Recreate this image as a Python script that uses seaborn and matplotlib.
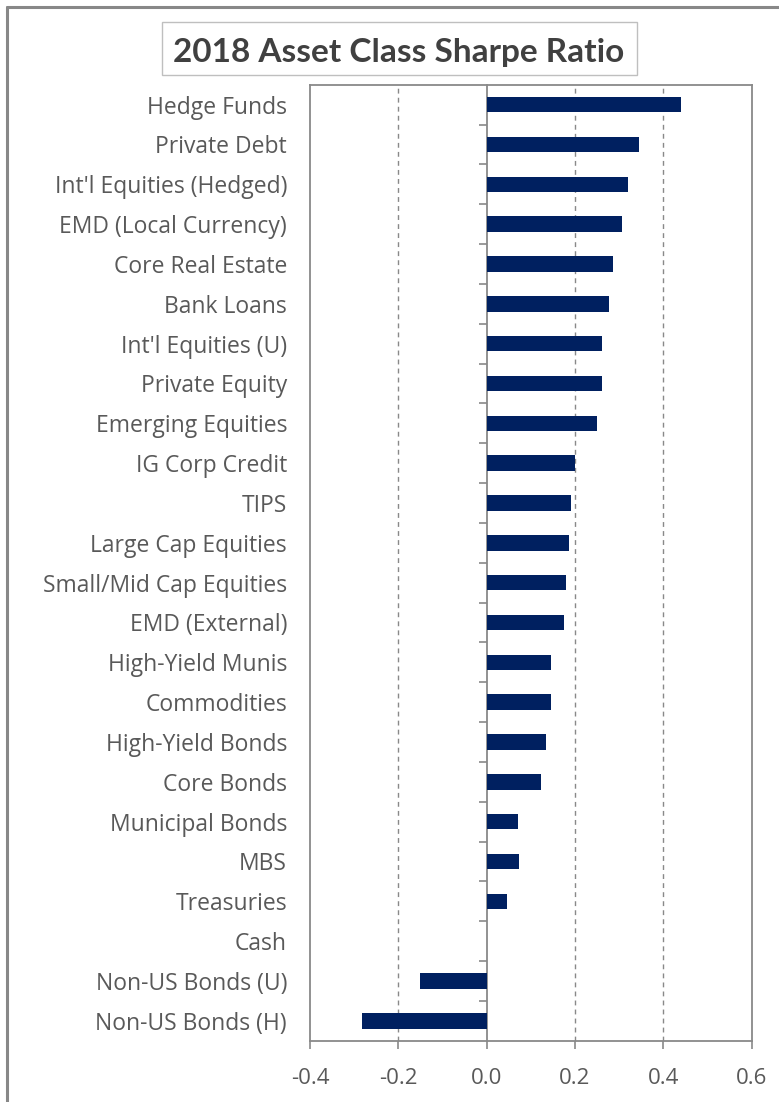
import numpy as np
import pandas as pd
import matplotlib
matplotlib.use("Agg")
import matplotlib.pyplot as plt
from matplotlib.patches import Rectangle
from matplotlib.lines import Line2D
import seaborn as sns

# 2018 Sharpe ratio by asset class (top to bottom)
asset_classes = [
    "Hedge Funds", "Private Debt", "Int'l Equities (Hedged)", "EMD (Local Currency)",
    "Core Real Estate", "Bank Loans", "Int'l Equities (U)", "Private Equity",
    "Emerging Equities", "IG Corp Credit", "TIPS", "Large Cap Equities",
    "Small/Mid Cap Equities", "EMD (External)", "High-Yield Munis", "Commodities",
    "High-Yield Bonds", "Core Bonds", "Municipal Bonds", "MBS", "Treasuries",
    "Cash", "Non-US Bonds (U)", "Non-US Bonds (H)",
]
sharpe_ratio = [
    0.44, 0.345, 0.321, 0.307,
    0.287, 0.278, 0.262, 0.262,
    0.249, 0.200, 0.192, 0.186,
    0.180, 0.175, 0.145, 0.145,
    0.134, 0.122, 0.070, 0.073, 0.047,
    0.0, -0.150, -0.282,
]
x_ticks = [-0.4, -0.2, 0.0, 0.2, 0.4, 0.6]

df = pd.DataFrame({"asset": asset_classes, "sharpe": sharpe_ratio})

sns.set_theme(style="white")
plt.rcParams["font.family"] = ["Open Sans", "DejaVu Sans"]

TEXT = "#595959"
AXIS = "#898989"
BAR = "#002060"

fig = plt.figure(figsize=(7.79, 11.02), dpi=100)
W, H = 779, 1102
ax = fig.add_axes([310 / W, 61.3 / H, (751.7 - 310) / W, (1040.7 - 84.7) / H])

sns.barplot(data=df, x="sharpe", y="asset", order=asset_classes, color=BAR,
            saturation=1, width=0.39, edgecolor="none", ax=ax)

ax.set_xlim(x_ticks[0], x_ticks[-1])
ax.set_ylim(len(asset_classes) - 0.5, -0.5)
ax.set_xlabel("")
ax.set_ylabel("")

# frame
for side in ["left", "right", "top", "bottom"]:
    ax.spines[side].set_visible(True)
    ax.spines[side].set_color(AXIS)
    ax.spines[side].set_linewidth(1.3)

# dashed vertical gridlines at inner ticks
for v in x_ticks[1:-1]:
    if v != 0:
        ax.axvline(v, color=AXIS, linestyle=(0, (3.5, 3)), linewidth=1.0, zorder=0)

ax.set_xticks(x_ticks)
ax.set_xticklabels([f"{v:.1f}" for v in x_ticks])
ax.tick_params(axis="x", direction="out", length=6, width=1.2, color=AXIS,
               labelcolor=TEXT, labelsize=16, pad=14, bottom=True)
ax.tick_params(axis="y", length=0, labelcolor=TEXT, labelsize=16.5, pad=16.5)

# category axis drawn at zero with boundary ticks
zero_frac = (0 - x_ticks[0]) / (x_ticks[-1] - x_ticks[0])
sec = ax.secondary_yaxis(zero_frac)
sec.spines["left"].set_color(AXIS)
sec.spines["left"].set_linewidth(1.3)
sec.set_yticks(np.arange(0.5, len(asset_classes) - 1, 1.0))
sec.set_yticklabels([])
sec.tick_params(axis="y", direction="out", length=6, width=1.2, color=AXIS)

# title box
fig.patches.append(Rectangle((161.7 / W, 1 - 75 / H), (636.7 - 161.7) / W, (75 - 21.7) / H,
                             transform=fig.transFigure, facecolor="white",
                             edgecolor="#BFBFBF", linewidth=1.0))
fig.text(398.5 / W, 1 - 61.7 / H, "2018 Asset Class Sharpe Ratio", ha="center", va="baseline",
         fontsize=24, fontweight="bold", color="#404040", family=["Lato", "DejaVu Sans"])

# outer chart border (top and left edges)
fig.lines.append(Line2D([7 / W, 1], [1 - 7 / H, 1 - 7 / H], transform=fig.transFigure,
                        color="#888888", linewidth=2.2))
fig.lines.append(Line2D([7 / W, 7 / W], [0, 1 - 7 / H], transform=fig.transFigure,
                        color="#888888", linewidth=2.2))

fig.savefig("out.png", dpi=100, facecolor="white")
